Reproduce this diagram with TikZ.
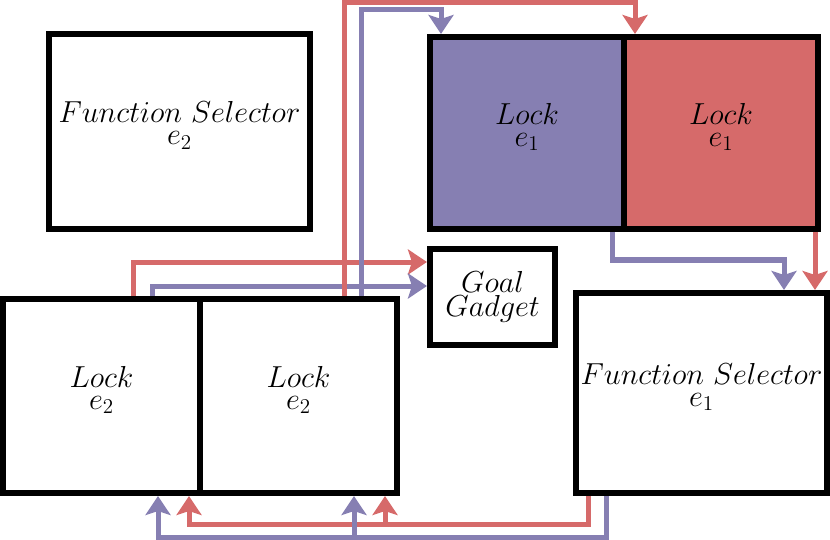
\documentclass[tikz,border=0pt]{standalone}
\usepackage{amsmath}
\usepackage{tikz}
\usetikzlibrary{positioning,calc}
\usetikzlibrary{arrows.meta}
\definecolor{lockblue}{RGB}{134,127,178}
\definecolor{lockred}{RGB}{214,106,106}
\tikzstyle{box} = [draw,line width=0.12cm,inner sep=0pt,align=center,font=\fontsize{17}{12.5}\selectfont]
\tikzstyle{redline} = [lockred,line width=0.1cm,-{Stealth[length=0.38cm,width=0.5cm,inset=0.08cm]}]
\tikzstyle{blueline} = [lockblue,line width=0.1cm,-{Stealth[length=0.38cm,width=0.5cm,inset=0.08cm]}]

\begin{document}
\begin{tikzpicture}
	\useasboundingbox (0,0) rectangle (16.6,-10.8);
	% gadgets
	\node[box,minimum width=5.22cm,minimum height=3.9cm] (fsTwo) at (3.59,-2.63) {$Function\ Selector$\\$e_2$\\[-3pt]};
	\node[box,fill=lockblue,minimum width=3.88cm,minimum height=3.84cm] (lockBlue) at (10.54,-2.66) {$Lock$\\$e_1$\\[-3pt]};
	\node[box,fill=lockred,minimum width=3.88cm,minimum height=3.84cm] (lockRed) at (14.42,-2.66) {$Lock$\\$e_1$\\[-3pt]};
	\node[box,minimum width=2.5cm,minimum height=1.92cm] (goal) at (9.85,-5.94) {$Goal$\\[1pt]$Gadget$};
	\node[box,minimum width=3.94cm,minimum height=3.88cm] (lockL) at (2.03,-7.92) {$Lock$\\$e_2$\\[-3pt]};
	\node[box,minimum width=3.94cm,minimum height=3.88cm] (lockR) at (5.97,-7.92) {$Lock$\\$e_2$\\[-3pt]};
	\node[box,minimum width=5.02cm,minimum height=4cm] (fsOne) at (14.03,-7.86) {$Function\ Selector$\\$e_1$\\[-3pt]};
	% left locks to goal and top locks
	\draw[redline] ([xshift=2.66cm]lockL.north west) |- ([yshift=0.7cm]goal.west);
	\draw[blueline] ([xshift=3.04cm]lockL.north west) |- ([yshift=0.22cm]goal.west);
	\draw[redline] ([xshift=2.94cm]lockR.north west) |- ([xshift=0.28cm,yshift=0.62cm]lockRed.north west) -- ([xshift=0.28cm]lockRed.north west);
	\draw[blueline] ([xshift=3.28cm]lockR.north west) |- ([xshift=0.28cm,yshift=0.48cm]lockBlue.north west) -- ([xshift=0.28cm]lockBlue.north west);
	% top locks to function selector
	\draw[blueline] ([xshift=3.7cm]lockBlue.south west) |- ([xshift=4.22cm,yshift=0.6cm]fsOne.north west) -- ([xshift=4.22cm]fsOne.north west);
	\draw[redline] ([xshift=-0.12cm]lockRed.south east) -- ([xshift=-0.12cm]lockRed.south east |- fsOne.north);
	% function selector back to left locks
	\coordinate (rb) at ([xshift=3.76cm,yshift=-0.56cm]lockR.south west);
	\coordinate (bb) at ([xshift=3.14cm,yshift=-0.82cm]lockR.south west);
	\draw[redline] ([xshift=0.3cm]fsOne.south west) |- ([xshift=3.78cm,yshift=-0.56cm]lockL.south west) -- ([xshift=3.78cm]lockL.south west);
	\draw[redline] (rb) -- (rb |- lockR.south);
	\draw[blueline] ([xshift=0.66cm]fsOne.south west) |- ([xshift=3.16cm,yshift=-0.82cm]lockL.south west) -- ([xshift=3.16cm]lockL.south west);
	\draw[blueline] (bb) -- (bb |- lockR.south);
\end{tikzpicture}
\end{document}
